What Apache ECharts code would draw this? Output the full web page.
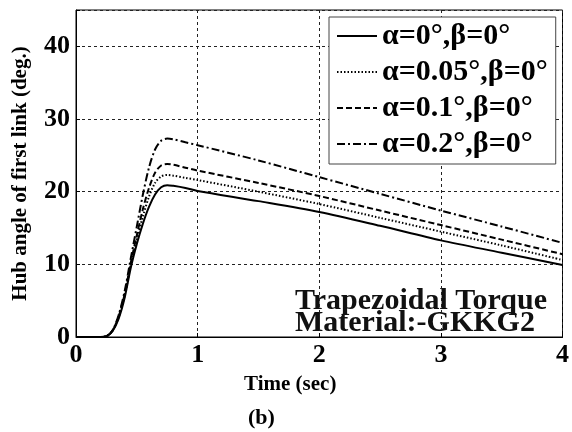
<!DOCTYPE html>
<html>
<head>
<meta charset="utf-8">
<script src="https://cdn.jsdelivr.net/npm/echarts@6/dist/echarts.min.js"></script>
<style>html,body{margin:0;padding:0;background:#fff}#c{width:572px;height:432px}</style>
</head>
<body>
<div id="c"></div>
<script>
var seriesNames = ['α=0°,β=0°', 'α=0.05°,β=0°', 'α=0.1°,β=0°', 'α=0.2°,β=0°'];
var time = [0, 0.2, 0.25, 0.3, 0.35, 0.4, 0.45, 0.5, 0.55, 0.6, 0.65, 0.7, 0.75, 0.8, 0.9, 1.0, 1.5, 2.0, 2.5, 3.0, 3.5, 4.0];
var a0   = [0, 0, 0.1, 0.8, 2.5, 5.4, 9.5, 12.8, 15.6, 17.9, 19.6, 20.6, 20.9, 20.8, 20.5, 20.1, 18.7, 17.2, 15.3, 13.3, 11.6, 9.9];
var a005 = [0, 0, 0.1, 0.85, 2.7, 5.7, 9.9, 13.4, 16.6, 19.3, 21.2, 22.1, 22.3, 22.2, 21.9, 21.6, 20.0, 18.3, 16.4, 14.5, 12.6, 10.6];
var a01  = [0, 0, 0.1, 0.9, 2.8, 5.9, 10.2, 14.0, 17.6, 20.5, 22.6, 23.6, 23.8, 23.7, 23.3, 22.9, 21.2, 19.4, 17.4, 15.4, 13.4, 11.4];
var a02  = [0, 0, 0.1, 0.9, 3.0, 6.3, 10.8, 15.2, 19.6, 23.3, 25.8, 27.0, 27.3, 27.2, 26.8, 26.4, 24.3, 22.0, 19.7, 17.4, 15.2, 12.95];
var xTicks = [0, 1, 2, 3, 4];
var yTicks = [0, 10, 20, 30, 40];

function pairs(ys) { return time.map(function (t, i) { return [t, ys[i]]; }); }
var font = '"Liberation Serif","Times New Roman",serif';
var styles = [
  { type: 'solid', width: 2 },
  { type: [1.5, 2], width: 2 },
  { type: [6, 3], width: 2 },
  { type: [8, 3, 2, 3], width: 2 }
];
var allData = [a0, a005, a01, a02];

var chart = echarts.init(document.getElementById('c'), null, { renderer: 'canvas' });
chart.setOption({
  animation: false,
  backgroundColor: '#fff',
  grid: { left: 76, right: 9, top: 10, bottom: 95, show: true, borderColor: '#000', borderWidth: 1 },
  xAxis: {
    type: 'value', min: 0, max: 4, interval: 1,
    name: 'Time (sec)', nameLocation: 'middle', nameGap: 37,
    nameTextStyle: { fontFamily: font, fontWeight: 'bold', fontSize: 21, color: '#000', padding: [0, 58, 0, 0] },
    axisLine: { show: true, lineStyle: { color: '#000', width: 1 } },
    axisTick: { show: true, inside: true, length: 4, lineStyle: { color: '#000' } },
    axisLabel: { fontFamily: font, fontWeight: 'bold', fontSize: 26, color: '#000', margin: 5,
      formatter: function (v) { return xTicks.indexOf(v) >= 0 ? String(v) : ''; } },
    splitLine: { show: true, lineStyle: { color: '#222', type: [3, 3], width: 1 } }
  },
  yAxis: {
    type: 'value', min: 0, max: 45, interval: 10,
    name: 'Hub angle of first link (deg.)', nameLocation: 'middle', nameGap: 45,
    nameTextStyle: { fontFamily: font, fontWeight: 'bold', fontSize: 21, color: '#000' },
    axisLine: { show: true, lineStyle: { color: '#000', width: 1 } },
    axisTick: { show: true, inside: true, length: 4, lineStyle: { color: '#000' } },
    axisLabel: { fontFamily: font, fontWeight: 'bold', fontSize: 26, color: '#000', margin: 6,
      formatter: function (v) { return yTicks.indexOf(v) >= 0 ? String(v) : ''; } },
    splitLine: { show: true, lineStyle: { color: '#222', type: [3, 3], width: 1 } }
  },
  legend: {
    left: 329, top: 17, orient: 'vertical',
    backgroundColor: '#fff', borderColor: '#444', borderWidth: 1,
    padding: [4, 8, 5, 7], itemGap: 6, itemWidth: 40, itemHeight: 14,
    itemStyle: { opacity: 0 },
    textStyle: { fontFamily: font, fontWeight: 'bold', fontSize: 30, color: '#000', lineHeight: 29 },
    data: seriesNames
  },
  graphic: [
    { type: 'text', left: 295, top: 286, style: { text: 'Trapezoidal Torque', font: 'bold 30px ' + font, fill: '#111' } },
    { type: 'text', left: 295, top: 308, style: { text: 'Material:-GKKG2', font: 'bold 30px ' + font, fill: '#111' } },
    { type: 'text', left: 248, top: 407, style: { text: '(b)', font: 'bold 22px ' + font, fill: '#000' } }
  ],
  series: seriesNames.map(function (n, i) {
    return {
      name: n, type: 'line', data: pairs(allData[i]), smooth: 0.3, showSymbol: false, symbol: 'none',
      color: '#000',
      lineStyle: { color: '#000', width: styles[i].width, type: styles[i].type }
    };
  })
});
</script>
</body>
</html>
